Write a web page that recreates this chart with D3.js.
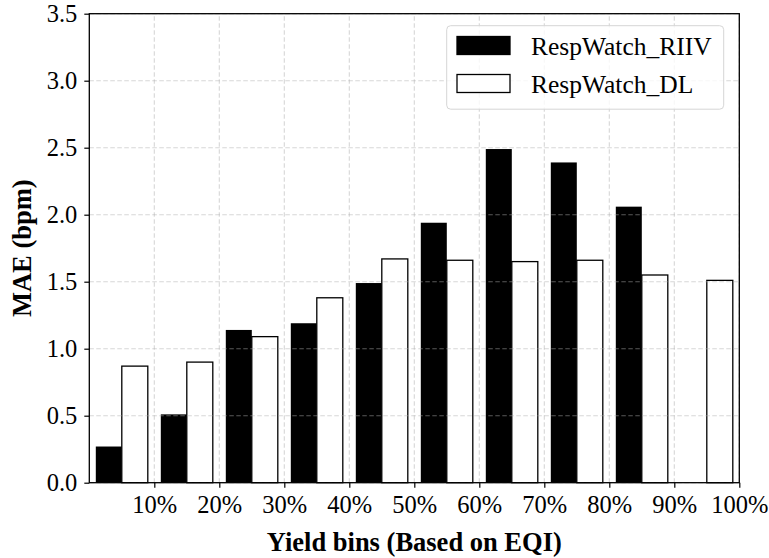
<!DOCTYPE html>
<html>
<head>
<meta charset="utf-8">
<script src="https://cdn.jsdelivr.net/npm/d3@7"></script>
<style>
  body { margin: 0; background: #fff; }
  text { font-family: "Liberation Serif", "DejaVu Serif", serif; fill: #000; }
</style>
</head>
<body>
<script>
const width = 769;
const height = 558;
const margin = { left: 89.3, right: 29.7, top: 13.7, bottom: 75.3 };

// data
const binStarts = [0, 10, 20, 30, 40, 50, 60, 70, 80, 90];
const xTicks = [10, 20, 30, 40, 50, 60, 70, 80, 90, 100];
const yTicks = [0, 0.5, 1.0, 1.5, 2.0, 2.5, 3.0, 3.5];
const riiv = [0.27, 0.51, 1.14, 1.19, 1.49, 1.94, 2.49, 2.39, 2.06, null];
const dl = [0.87, 0.90, 1.09, 1.38, 1.67, 1.66, 1.65, 1.66, 1.55, 1.51];
const seriesNames = ["RespWatch_RIIV", "RespWatch_DL"];

const tickSize = 24.5;
const legendSize = 25.5;
const labelSize = 26.5;

const x = d3.scaleLinear().domain([0, 100]).range([margin.left, width - margin.right]);
const y = d3.scaleLinear().domain([0, 3.5]).range([height - margin.bottom, margin.top]);

const svg = d3.select("body")
    .append("svg")
    .attr("width", width)
    .attr("height", height);

// bars
const series = [
    { name: seriesNames[0], values: riiv, offset: 1, fill: "#000", stroke: "none" },
    { name: seriesNames[1], values: dl, offset: 5, fill: "#fff", stroke: "#000" }
];
const barW = 4;

series.forEach(s => {
    svg.append("g")
        .selectAll("rect")
        .data(binStarts.map((b, i) => ({ b, v: s.values[i] })).filter(d => d.v != null))
        .join("rect")
        .attr("x", d => x(d.b + s.offset))
        .attr("width", d => x(d.b + s.offset + barW) - x(d.b + s.offset))
        .attr("y", d => y(d.v))
        .attr("height", d => y(0) - y(d.v))
        .attr("fill", s.fill)
        .attr("stroke", s.stroke)
        .attr("stroke-width", 1.3);
});

// grid on top of bars
const grid = svg.append("g")
    .attr("stroke", "#b0b0b0")
    .attr("stroke-opacity", 0.5)
    .attr("stroke-width", 1.1)
    .attr("stroke-dasharray", "4.5,2.5");
grid.selectAll(".gy").data(yTicks).join("line")
    .attr("x1", x(0)).attr("x2", x(100))
    .attr("y1", d => y(d)).attr("y2", d => y(d));
grid.selectAll(".gx").data(xTicks).join("line")
    .attr("x1", d => x(d)).attr("x2", d => x(d))
    .attr("y1", y(0)).attr("y2", y(3.5));

// axes
const xAxis = svg.append("g")
    .attr("transform", `translate(0,${y(0)})`)
    .call(d3.axisBottom(x).tickValues(xTicks).tickFormat(d => d + "%").tickSize(5).tickPadding(8));
const yAxis = svg.append("g")
    .attr("transform", `translate(${x(0)},0)`)
    .call(d3.axisLeft(y).tickValues(yTicks).tickFormat(d3.format(".1f")).tickSize(5).tickPadding(7));

[xAxis, yAxis].forEach(a => {
    a.select(".domain").remove();
    a.selectAll("line").attr("stroke", "#000").attr("stroke-width", 1.2);
    a.selectAll("text")
        .attr("font-family", "Liberation Serif")
        .attr("font-size", tickSize)
        .attr("fill", "#000");
});

// frame
svg.append("rect")
    .attr("x", x(0)).attr("y", y(3.5))
    .attr("width", x(100) - x(0)).attr("height", y(0) - y(3.5))
    .attr("fill", "none")
    .attr("stroke", "#000")
    .attr("stroke-width", 1.3);

// axis labels
svg.append("text")
    .attr("x", (x(0) + x(100)) / 2)
    .attr("y", 551)
    .attr("text-anchor", "middle")
    .attr("font-size", labelSize)
    .attr("font-weight", "bold")
    .text("Yield bins (Based on EQI)");

svg.append("text")
    .attr("transform", `translate(31,${(y(0) + y(3.5)) / 2}) rotate(-90)`)
    .attr("text-anchor", "middle")
    .attr("font-size", labelSize)
    .attr("font-weight", "bold")
    .text("MAE (bpm)");

// legend
const legend = svg.append("g");
legend.append("rect")
    .attr("x", 446.7).attr("y", 25.7)
    .attr("width", 277).attr("height", 83.5)
    .attr("rx", 4)
    .attr("fill", "#fff")
    .attr("fill-opacity", 0.8)
    .attr("stroke", "#d6d6d6")
    .attr("stroke-width", 1);

const rows = legend.selectAll(".row")
    .data(series)
    .join("g")
    .attr("transform", (d, i) => `translate(0,${i * 38})`);
rows.append("rect")
    .attr("x", 457).attr("y", 36.5)
    .attr("width", 53).attr("height", 18)
    .attr("fill", d => d.fill)
    .attr("stroke", "#000")
    .attr("stroke-width", 1.3);
rows.append("text")
    .attr("x", 531).attr("y", 55)
    .attr("font-size", legendSize)
    .text(d => d.name);
</script>
</body>
</html>
